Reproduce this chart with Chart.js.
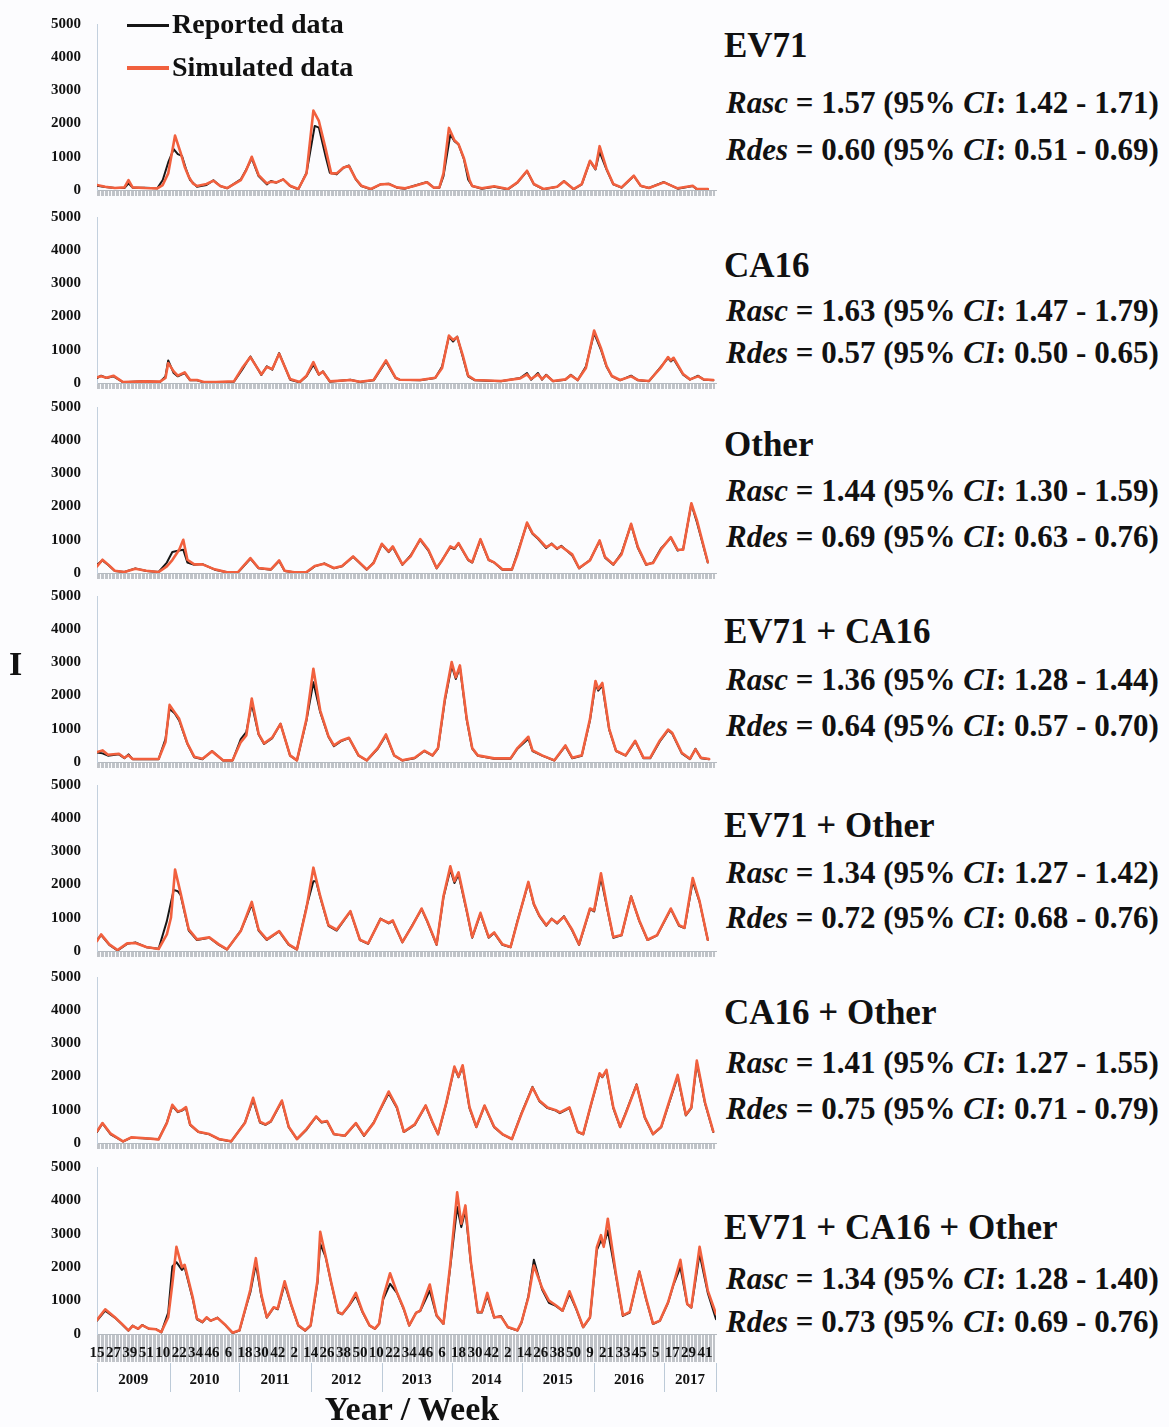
<!DOCTYPE html>
<html><head><meta charset="utf-8">
<script src="https://cdn.jsdelivr.net/npm/chart.js@4.4.1/dist/chart.umd.min.js"></script>
<style>
html,body{margin:0;padding:0;background:#fcfcfe;}
#wrap{position:relative;width:1169px;height:1427px;overflow:hidden;font-family:"Liberation Serif","Times New Roman",serif;font-weight:bold;color:#111;}
canvas{position:absolute;left:0;}
.t{position:absolute;white-space:nowrap;line-height:1;}
.i{font-style:italic;}
.ln{position:absolute;}
</style></head><body><div id="wrap"></div>
<script>
// ---------- DATA ----------
// x = weeks since 2009 week 15, y = number of cases (I)
const weekLabels = ['15','27','39','51','10','22','34','46','6','18','30','42','2','14','26','38','50','10','22','34','46','6','18','30','42','2','14','26','38','50','9','21','33','45','5','17','29','41'];
const years = ['2009','2010','2011','2012','2013','2014','2015','2016','2017'];
const yearStarts = [0,53,104,156,208,259,310,363,414];
const yearEnd = 452;

const panelTitles = ['EV71','CA16','Other','EV71 + CA16','EV71 + Other','CA16 + Other','EV71 + CA16 + Other'];
const rasc = [['1.57','1.42','1.71'],['1.63','1.47','1.79'],['1.44','1.30','1.59'],['1.36','1.28','1.44'],['1.34','1.27','1.42'],['1.41','1.27','1.55'],['1.34','1.28','1.40']];
const rdes = [['0.60','0.51','0.69'],['0.57','0.50','0.65'],['0.69','0.63','0.76'],['0.64','0.57','0.70'],['0.72','0.68','0.76'],['0.75','0.71','0.79'],['0.73','0.69','0.76']];

const EV71_reported = [[0,130],[6,90],[13,60],[20,60],[23,200],[26,70],[35,70],[44,50],[48,300],[52,830],[56,1230],[59,1080],[62,1030],[65,630],[68,300],[73,100],[80,150],[85,290],[90,120],[95,50],[105,320],[109,620],[113,950],[118,420],[124,170],[127,270],[131,220],[136,320],[141,120],[147,20],[153,520],[159,1930],[162,1880],[167,1000],[170,520],[175,470],[180,670],[184,740],[189,320],[193,120],[200,20],[207,170],[213,190],[219,70],[225,40],[231,120],[241,240],[246,70],[250,70],[253,420],[258,1670],[261,1470],[264,1370],[268,920],[271,320],[274,120],[281,40],[290,100],[300,20],[307,220],[314,570],[319,170],[326,20],[336,100],[341,270],[348,20],[354,170],[360,870],[364,620],[367,1150],[372,620],[377,170],[383,70],[392,420],[397,120],[403,60],[414,240],[424,40],[435,120],[438,20],[446,20]];
const EV71_simulated = [[0,150],[6,100],[13,60],[20,80],[23,300],[26,80],[35,60],[44,50],[48,150],[52,500],[57,1640],[61,1130],[64,700],[67,400],[70,200],[73,120],[80,180],[85,280],[90,120],[95,60],[105,300],[109,600],[113,1000],[118,450],[124,200],[127,250],[131,230],[136,320],[141,130],[147,30],[153,500],[158,2390],[162,2080],[167,1230],[171,500],[175,500],[180,680],[184,720],[189,330],[193,130],[200,30],[207,170],[213,180],[219,80],[225,50],[231,110],[241,230],[246,70],[250,80],[253,500],[257,1870],[261,1500],[264,1380],[268,950],[272,300],[274,120],[281,50],[290,110],[300,30],[307,230],[314,580],[319,180],[326,30],[336,100],[341,260],[348,30],[354,180],[360,880],[364,640],[367,1320],[372,650],[377,180],[383,80],[392,430],[397,130],[403,60],[414,230],[424,50],[435,130],[438,30],[446,30]];

const CA16_reported = [[0,150],[3,220],[7,150],[12,200],[16,100],[19,20],[34,50],[46,30],[50,200],[52,680],[56,300],[59,200],[64,300],[68,80],[73,80],[78,20],[87,30],[100,40],[106,400],[112,800],[120,240],[124,500],[128,400],[133,900],[141,100],[148,20],[153,200],[158,550],[162,250],[165,350],[170,40],[185,100],[192,30],[202,80],[211,650],[218,150],[221,100],[236,80],[247,150],[252,500],[257,1400],[260,1250],[263,1400],[267,800],[271,200],[276,80],[295,50],[309,150],[314,300],[317,100],[322,300],[325,100],[328,250],[333,50],[342,100],[346,250],[351,80],[357,500],[363,1500],[368,1000],[372,500],[376,200],[382,80],[390,220],[395,80],[403,50],[412,500],[417,750],[419,650],[421,720],[428,250],[433,100],[439,220],[443,100],[450,80]];
const CA16_simulated = [[0,170],[3,200],[7,160],[12,220],[16,110],[19,30],[34,50],[46,40],[50,150],[52,600],[56,350],[59,220],[64,320],[68,90],[73,90],[78,30],[87,30],[100,50],[106,450],[112,780],[120,260],[124,480],[128,420],[133,880],[141,120],[148,30],[153,220],[158,630],[162,260],[165,340],[170,50],[185,90],[192,40],[202,90],[211,680],[218,160],[221,100],[236,90],[247,160],[252,450],[257,1430],[260,1300],[263,1380],[267,850],[271,220],[276,90],[295,60],[309,140],[314,260],[317,120],[322,260],[325,120],[328,230],[333,60],[342,110],[346,230],[351,90],[357,450],[363,1580],[368,1050],[372,520],[376,210],[382,90],[390,200],[395,90],[403,60],[412,480],[417,780],[419,680],[421,760],[428,270],[433,110],[439,200],[443,110],[450,90]];

const Other_reported = [[0,250],[4,380],[8,250],[13,60],[20,30],[28,140],[36,60],[45,30],[51,315],[55,630],[60,675],[63,700],[66,315],[71,245],[77,270],[86,100],[95,20],[103,20],[112,430],[118,140],[127,100],[133,360],[137,60],[144,20],[153,20],[159,200],[166,290],[173,140],[179,200],[187,490],[197,100],[202,315],[208,860],[213,630],[216,775],[223,245],[229,530],[236,1000],[242,675],[248,140],[252,390],[258,775],[261,720],[264,890],[271,390],[274,315],[280,1000],[286,390],[290,315],[296,100],[303,100],[307,600],[314,1490],[318,1180],[322,1030],[328,750],[332,890],[336,720],[339,820],[347,530],[352,140],[360,390],[367,960],[371,460],[377,245],[383,600],[390,1460],[395,750],[401,245],[406,315],[412,750],[419,1060],[424,675],[428,720],[434,2070],[438,1535],[446,315]];
const Other_simulated = [[0,200],[4,400],[8,260],[13,70],[20,30],[28,130],[36,70],[45,30],[51,200],[55,390],[60,700],[63,1000],[66,400],[71,260],[77,260],[86,110],[95,20],[103,30],[112,450],[118,150],[127,110],[133,380],[137,70],[144,20],[153,30],[159,210],[166,280],[173,150],[179,210],[187,500],[197,110],[202,300],[208,880],[213,650],[216,800],[223,260],[229,500],[236,1020],[242,700],[248,150],[252,380],[258,800],[261,740],[264,900],[271,400],[274,330],[280,1020],[286,400],[290,320],[296,110],[303,110],[307,550],[314,1520],[318,1200],[322,1050],[328,780],[332,870],[336,740],[339,800],[347,560],[352,150],[360,380],[367,980],[371,480],[377,260],[383,560],[390,1480],[395,780],[401,260],[406,300],[412,720],[419,1080],[424,700],[428,700],[434,2100],[438,1600],[446,330]];

const EV71_CA16_reported = [[0,290],[4,260],[8,190],[16,230],[20,115],[23,230],[26,85],[33,85],[45,85],[50,690],[53,1600],[57,1450],[60,1250],[66,545],[71,145],[77,85],[84,330],[92,45],[99,45],[105,690],[109,900],[113,1750],[118,830],[122,545],[128,720],[134,1150],[141,190],[146,45],[153,1260],[158,2400],[163,1500],[169,760],[173,475],[178,620],[184,720],[191,190],[197,45],[205,400],[211,800],[217,190],[223,45],[232,115],[239,330],[245,190],[249,400],[254,1840],[259,2900],[262,2500],[265,2850],[270,1260],[274,400],[278,190],[290,100],[302,100],[307,400],[315,700],[318,330],[325,190],[334,45],[342,475],[347,115],[354,190],[360,1260],[364,2350],[366,2150],[369,2300],[374,975],[379,330],[386,190],[393,620],[399,115],[404,115],[411,620],[417,950],[420,860],[427,260],[433,85],[437,400],[441,115],[447,85]];
const EV71_CA16_simulated = [[0,300],[4,350],[8,220],[16,250],[20,130],[23,200],[26,90],[33,90],[45,90],[50,600],[53,1720],[57,1480],[60,1300],[66,560],[71,160],[77,100],[84,320],[92,50],[99,50],[105,600],[109,800],[113,1910],[118,850],[122,560],[128,740],[134,1150],[141,200],[146,50],[153,1300],[158,2810],[163,1550],[169,780],[173,500],[178,640],[184,730],[191,200],[197,50],[205,420],[211,830],[217,200],[223,50],[232,130],[239,340],[245,200],[249,420],[254,1900],[259,3010],[262,2550],[265,2910],[270,1300],[274,420],[278,200],[290,110],[302,110],[307,420],[315,760],[318,350],[325,200],[334,50],[342,500],[347,130],[354,200],[360,1300],[364,2440],[366,2200],[369,2380],[374,1000],[379,340],[386,200],[393,640],[399,130],[404,130],[411,650],[417,975],[420,880],[427,280],[433,100],[437,380],[441,130],[447,90]];

const EV71_Other_reported = [[0,330],[3,480],[9,185],[15,15],[22,215],[28,260],[36,115],[45,70],[51,900],[56,1840],[59,1800],[61,1690],[67,615],[73,330],[82,400],[89,185],[95,45],[105,615],[113,1400],[118,615],[124,330],[133,590],[140,185],[146,45],[153,1335],[158,2100],[160,2100],[163,1620],[169,760],[175,615],[185,1190],[192,330],[198,215],[207,975],[213,830],[216,900],[223,260],[230,760],[237,1260],[241,900],[248,185],[253,1620],[258,2450],[261,2050],[264,2300],[270,1190],[274,400],[280,1120],[286,400],[290,545],[296,185],[302,115],[307,900],[315,2050],[319,1400],[323,1050],[328,760],[332,975],[336,830],[341,1050],[347,615],[352,185],[360,1260],[363,1190],[368,2200],[373,1190],[377,400],[383,470],[390,1650],[396,900],[402,330],[409,470],[419,1260],[425,760],[429,690],[435,2100],[440,1480],[446,330]];
const EV71_Other_simulated = [[0,300],[3,500],[9,200],[15,30],[22,230],[28,240],[36,120],[45,60],[51,500],[54,1000],[57,2450],[61,1750],[67,650],[73,350],[82,410],[89,200],[95,50],[105,600],[113,1480],[118,640],[124,350],[133,600],[140,200],[146,50],[153,1300],[158,2510],[163,1650],[169,780],[175,640],[185,1200],[192,340],[198,230],[207,960],[213,850],[216,920],[223,270],[230,740],[237,1280],[241,920],[248,200],[253,1650],[258,2550],[261,2100],[264,2370],[270,1220],[274,420],[280,1150],[286,420],[290,560],[296,200],[302,120],[307,880],[315,2080],[319,1420],[323,1070],[328,780],[332,960],[336,850],[341,1030],[347,640],[352,200],[360,1280],[363,1220],[368,2340],[373,1220],[377,420],[383,480],[390,1640],[396,920],[402,340],[409,480],[419,1280],[425,780],[429,700],[435,2200],[440,1500],[446,340]];

const CA16_Other_reported = [[0,330],[4,590],[10,260],[19,45],[25,160],[33,145],[45,115],[51,615],[55,1120],[59,930],[62,975],[65,1050],[68,545],[74,330],[82,260],[89,115],[98,45],[108,615],[114,1300],[119,615],[123,545],[127,645],[135,1260],[140,475],[146,115],[153,400],[160,790],[164,615],[168,645],[173,260],[181,215],[189,590],[195,215],[202,615],[213,1500],[219,1050],[224,330],[232,545],[240,1120],[245,615],[249,260],[255,1190],[261,2270],[264,1980],[267,2300],[272,1050],[277,475],[283,1120],[290,475],[296,260],[303,115],[310,900],[318,1690],[323,1260],[329,1050],[335,975],[338,900],[345,1050],[351,330],[355,260],[361,1190],[367,2080],[369,1980],[372,2170],[377,1050],[382,475],[386,900],[394,1765],[400,760],[406,260],[412,475],[424,2000],[430,830],[434,1050],[438,2400],[444,1190],[450,330]];
const CA16_Other_simulated = [[0,350],[4,600],[10,280],[19,50],[25,170],[33,150],[45,110],[51,600],[55,1150],[59,950],[62,990],[65,1080],[68,560],[74,340],[82,270],[89,120],[98,50],[108,600],[114,1360],[119,640],[123,560],[127,660],[135,1280],[140,490],[146,120],[153,420],[160,800],[164,630],[168,660],[173,270],[181,220],[189,600],[195,230],[202,600],[213,1550],[219,1080],[224,340],[232,560],[240,1130],[245,630],[249,270],[255,1200],[261,2300],[264,2000],[267,2340],[272,1080],[277,490],[283,1130],[290,490],[296,270],[303,120],[310,880],[318,1670],[323,1280],[329,1070],[335,990],[338,920],[345,1070],[351,340],[355,270],[361,1200],[367,2100],[369,2000],[372,2200],[377,1080],[382,490],[386,880],[394,1750],[400,780],[406,270],[412,490],[424,2050],[430,850],[434,1070],[438,2480],[444,1220],[450,350]];

const All_reported = [[0,400],[6,700],[13,490],[18,300],[23,100],[26,250],[30,150],[33,270],[38,150],[43,150],[47,50],[52,640],[55,2020],[58,2150],[62,1920],[64,2000],[70,1035],[73,440],[77,345],[80,490],[83,395],[88,490],[94,250],[99,30],[104,100],[109,840],[112,1250],[116,2100],[120,1130],[124,490],[129,790],[132,740],[137,1500],[142,840],[147,250],[152,100],[156,250],[161,1530],[163,2700],[167,2300],[171,1530],[176,640],[179,590],[184,840],[189,1150],[194,640],[199,250],[203,150],[206,300],[209,1035],[214,1500],[219,1230],[224,740],[228,250],[233,640],[236,690],[243,1300],[248,540],[253,300],[258,2020],[263,3800],[266,3200],[269,3700],[273,2120],[278,640],[281,640],[285,1150],[290,490],[295,540],[300,200],[307,100],[310,345],[315,1130],[319,2220],[325,1330],[330,935],[335,840],[340,690],[345,1200],[350,740],[355,200],[360,490],[365,2510],[368,2800],[370,2650],[373,3100],[379,1725],[384,540],[389,640],[396,1870],[401,1035],[406,300],[411,395],[417,935],[421,1480],[426,2000],[431,890],[434,790],[440,2400],[446,1230],[452,440]];
const All_simulated = [[0,420],[6,740],[13,500],[18,310],[23,110],[26,240],[30,160],[33,260],[38,160],[43,140],[47,60],[52,500],[55,1500],[58,2610],[62,2000],[64,2070],[70,1080],[73,460],[77,360],[80,500],[83,400],[88,480],[94,260],[99,40],[104,110],[109,860],[112,1330],[116,2270],[120,1180],[124,500],[129,800],[132,760],[137,1580],[142,860],[147,260],[152,110],[156,260],[161,1600],[163,3060],[167,2320],[171,1550],[176,660],[179,600],[184,860],[189,1230],[194,660],[199,260],[203,160],[206,310],[209,1100],[214,1820],[219,1250],[224,760],[228,260],[233,630],[236,700],[243,1480],[248,560],[253,310],[258,2100],[263,4240],[266,3300],[269,3850],[273,2150],[278,660],[281,660],[285,1230],[290,500],[295,520],[300,210],[307,110],[310,360],[315,1100],[319,2050],[325,1380],[330,1000],[335,860],[340,700],[345,1280],[350,760],[355,210],[360,500],[365,2600],[368,2960],[370,2610],[373,3450],[379,1780],[384,560],[389,660],[396,1870],[401,1060],[406,310],[411,400],[417,950],[421,1500],[426,2220],[431,900],[434,800],[440,2610],[446,1300],[452,600]];

const reportedSeries = [EV71_reported, CA16_reported, Other_reported, EV71_CA16_reported, EV71_Other_reported, CA16_Other_reported, All_reported];
const simulatedSeries = [EV71_simulated, CA16_simulated, Other_simulated, EV71_CA16_simulated, EV71_Other_simulated, CA16_Other_simulated, All_simulated];

// ---------- LAYOUT ----------
const plotTop = [24,217,407,596,785,977,1167];
const plotBottom = [190,383,573,762,951,1143,1334];
const titleY = [46,266,445,632,826,1013,1228];
const rascY = [103,311,491,680,873,1063,1279];
const rdesY = [150,353,537,726,918,1109,1322];
const FONT = '"Liberation Serif","Times New Roman",serif';
const RED = '#f1603e', BLACK = '#161616';
const PAD_TOP = 14;
const wrap = document.getElementById('wrap');

function addText(html, left, cy, size, extra) {
  const d = document.createElement('div');
  d.className = 't';
  d.innerHTML = html;
  d.style.left = left + 'px';
  d.style.top = (cy - 0.52 * size) + 'px';
  d.style.fontSize = size + 'px';
  if (extra) Object.assign(d.style, extra);
  wrap.appendChild(d);
  return d;
}
function addLine(left, top, w, h, color) {
  const d = document.createElement('div');
  d.className = 'ln';
  Object.assign(d.style, {left: left + 'px', top: top + 'px', width: w + 'px', height: h + 'px', background: color});
  wrap.appendChild(d);
}

const yearPlugin = {
  id: 'yearRow',
  afterDraw(chart) {
    const ctx = chart.ctx, xs = chart.scales.x, b0 = chart.chartArea.bottom;
    const bounds = yearStarts.concat([yearEnd]);
    ctx.save();
    ctx.strokeStyle = '#bccad8'; ctx.lineWidth = 1;
    bounds.forEach(b => {
      const px = Math.round(xs.getPixelForValue(b)) + 0.5;
      ctx.beginPath(); ctx.moveTo(px, b0 + 29); ctx.lineTo(px, b0 + 58); ctx.stroke();
    });
    ctx.fillStyle = '#111'; ctx.font = 'bold 15px ' + FONT;
    ctx.textAlign = 'center'; ctx.textBaseline = 'middle';
    years.forEach((y, k) => {
      const cx = (xs.getPixelForValue(bounds[k]) + xs.getPixelForValue(bounds[k + 1])) / 2;
      ctx.fillText(y, cx, b0 + 46);
    });
    ctx.restore();
  }
};

function toXY(arr) { return arr.map(p => ({x: p[0], y: p[1]})); }

for (let i = 0; i < 7; i++) {
  const isLast = i === 6;
  const axisH = isLast ? 61 : 12;
  const h = plotBottom[i] - plotTop[i] + PAD_TOP + axisH;
  const c = document.createElement('canvas');
  c.width = 720; c.height = h;
  c.style.width = '720px'; c.style.height = h + 'px';
  c.style.top = (plotTop[i] - PAD_TOP) + 'px';
  wrap.appendChild(c);
  new Chart(c, {
    type: 'line',
    data: {datasets: [
      {label: 'Simulated data', data: toXY(simulatedSeries[i]), borderColor: RED, borderWidth: 2.6},
      {label: 'Reported data', data: toXY(reportedSeries[i]), borderColor: BLACK, borderWidth: 2}
    ]},
    options: {
      responsive: false, animation: false, devicePixelRatio: 1,
      layout: {padding: {top: PAD_TOP, right: 4, left: 0, bottom: 0}},
      elements: {point: {radius: 0}, line: {tension: 0, borderJoinStyle: 'round', borderCapStyle: 'round'}},
      plugins: {legend: {display: false}, tooltip: {enabled: false}},
      scales: {
        x: {
          type: 'linear', min: 0, max: yearEnd,
          afterBuildTicks: s => { s.ticks = Array.from({length: yearEnd}, (_, k) => ({value: k})); },
          afterFit: s => { s.height = axisH; },
          grid: {display: true, drawOnChartArea: false, drawTicks: true, tickLength: isLast ? 28 : 6, color: 'rgba(176,180,186,0.8)', lineWidth: 1},
          border: {display: true, color: '#b5bac0', width: 1},
          ticks: {display: isLast, autoSkip: false, maxRotation: 0, minRotation: 0, padding: -18, color: '#111',
                  font: {family: FONT, weight: 'bold', size: 15},
                  callback: v => (v % 12 === 0 && weekLabels[v / 12]) ? weekLabels[v / 12] : ''}
        },
        y: {
          min: 0, max: 5000,
          afterFit: s => { s.width = 97; },
          grid: {display: true, drawOnChartArea: false, drawTicks: true, tickLength: 16, color: 'rgba(0,0,0,0)'},
          border: {display: true, color: '#c3d0de', width: 1},
          ticks: {stepSize: 1000, padding: 0, color: '#111', font: {family: FONT, weight: 'bold', size: 15},
                  callback: v => String(v)}
        }
      }
    },
    plugins: isLast ? [yearPlugin] : []
  });

  addText(panelTitles[i], 724, titleY[i], 35);
  addText('<span class="i">Rasc</span> = ' + rasc[i][0] + ' (95% <span class="i">CI</span>: ' + rasc[i][1] + ' - ' + rasc[i][2] + ')', 726, rascY[i], 31);
  addText('<span class="i">Rdes</span> = ' + rdes[i][0] + ' (95% <span class="i">CI</span>: ' + rdes[i][1] + ' - ' + rdes[i][2] + ')', 726, rdesY[i], 31);
}

// legend
addLine(127, 24, 42, 3, BLACK);
addText('Reported data', 172, 25, 28);
addLine(127, 66, 42, 4, RED);
addText('Simulated data', 172, 68, 28);
// axis titles
addText('I', 9, 665, 34);
addText('Year / Week', 412, 1410, 34, {transform: 'translateX(-50%)'});
</script></body></html>
